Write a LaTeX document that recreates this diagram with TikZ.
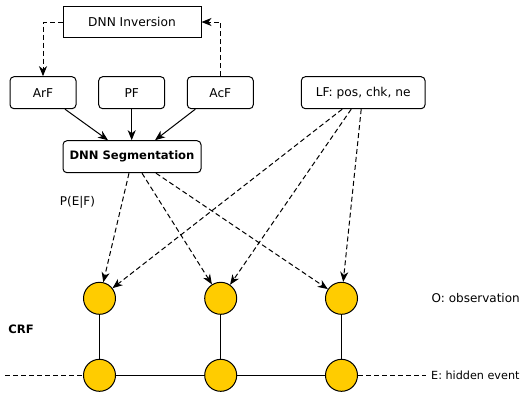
\documentclass[tikz,border=0pt]{standalone}
\usepackage{fontspec}
\setmainfont{DejaVu Sans}
\usetikzlibrary{arrows.meta,calc}
\definecolor{obsyellow}{HTML}{FFCC00}
\tikzset{
 base/.style={draw, line width=1pt, inner sep=0pt, font=\fontsize{12.2}{14}\selectfont},
 sqbox/.style={base, minimum width=138pt, minimum height=31.5pt},
 featbox/.style={base, rounded corners=4pt, minimum width=66pt, minimum height=32pt},
 state/.style={circle, draw, line width=1pt, fill=obsyellow, minimum size=32pt, inner sep=0pt},
 arr/.style={line width=1pt, -{Stealth[length=10pt,width=8pt,inset=3pt]}},
 darr/.style={arr, dash pattern=on 5pt off 3pt},
 sline/.style={line width=1pt},
 dline/.style={line width=1pt, dash pattern=on 5pt off 3pt},
 lbl/.style={inner sep=0pt, font=\fontsize{12}{14}\selectfont},
}
\begin{document}
\begin{tikzpicture}[x=1pt,y=-1pt]
\useasboundingbox (0,0) rectangle (524,394);
% boxes
\node[sqbox] (inv) at (132,22) {DNN Inversion};
\node[featbox] (arf) at (43,92.7) {ArF};
\node[featbox] (pf) at (131.7,92.7) {PF};
\node[featbox] (acf) at (220.3,92.7) {AcF};
\node[featbox, minimum width=123.7pt] (lf) at (363.2,92.7) {LF: pos, chk, ne};
\node[featbox, minimum width=138pt, font=\fontsize{11.6}{13}\selectfont\bfseries] (seg) at (132,156.7) {DNN Segmentation};
% states
\node[state] (o1) at (99.5,298.3) {};
\node[state] (o2) at (220.7,298.3) {};
\node[state] (o3) at (341.5,298.3) {};
\node[state] (e1) at (99.5,375.3) {};
\node[state] (e2) at (220.7,375.3) {};
\node[state] (e3) at (341.5,375.3) {};
% labels
\node[lbl] (pef) at (77.5,202.7) {P(E|F)};
\node[lbl, font=\fontsize{11.6}{13}\selectfont\bfseries] (crf) at (21,329) {CRF};
\node[lbl, anchor=west] (obs) at (431.5,298.3) {O: observation};
\node[lbl, anchor=west, font=\fontsize{11.2}{13}\selectfont] (hid) at (431,375.3) {E: hidden event};
% inversion loop
\draw[darr] (inv.west) -| (arf.north);
\draw[darr] (acf.north) |- (inv.east);
% features to segmentation
\draw[arr] ($(arf.south)+(22,0)$) -- ($(seg.north)+(-24,0)$);
\draw[arr] (pf.south) -- (pf.south |- seg.north);
\draw[arr] ($(acf.south)+(-25,0)$) -- ($(seg.north)+(23,0)$);
% segmentation to observations
\coordinate (s1) at ($(seg.south)+(-3,0)$);
\coordinate (s2) at ($(seg.south)+(10,0)$);
\coordinate (s3) at ($(seg.south)+(24,0)$);
\draw[darr] (s1) -- (o1);
\draw[darr] (s2) -- (o2);
\draw[darr] (s3) -- (o3);
% LF to observations
\coordinate (l1) at ($(lf.south)+(-21,0)$);
\coordinate (l2) at ($(lf.south)+(-12,0)$);
\coordinate (l3) at ($(lf.south)+(-2,0)$);
\draw[darr] (l1) -- (o1);
\draw[darr] (l2) -- (o2);
\draw[darr] (l3) -- (o3);
% CRF structure
\draw[sline] (o1) -- (e1);
\draw[sline] (o2) -- (e2);
\draw[sline] (o3) -- (e3);
\draw[sline] (e1) -- (e2);
\draw[sline] (e2) -- (e3);
\coordinate (lend) at (5,375.3);
\coordinate (rend) at (425.5,375.3);
\draw[dline] (lend) -- (e1);
\draw[dline] (e3) -- (rend);
\end{tikzpicture}
\end{document}
